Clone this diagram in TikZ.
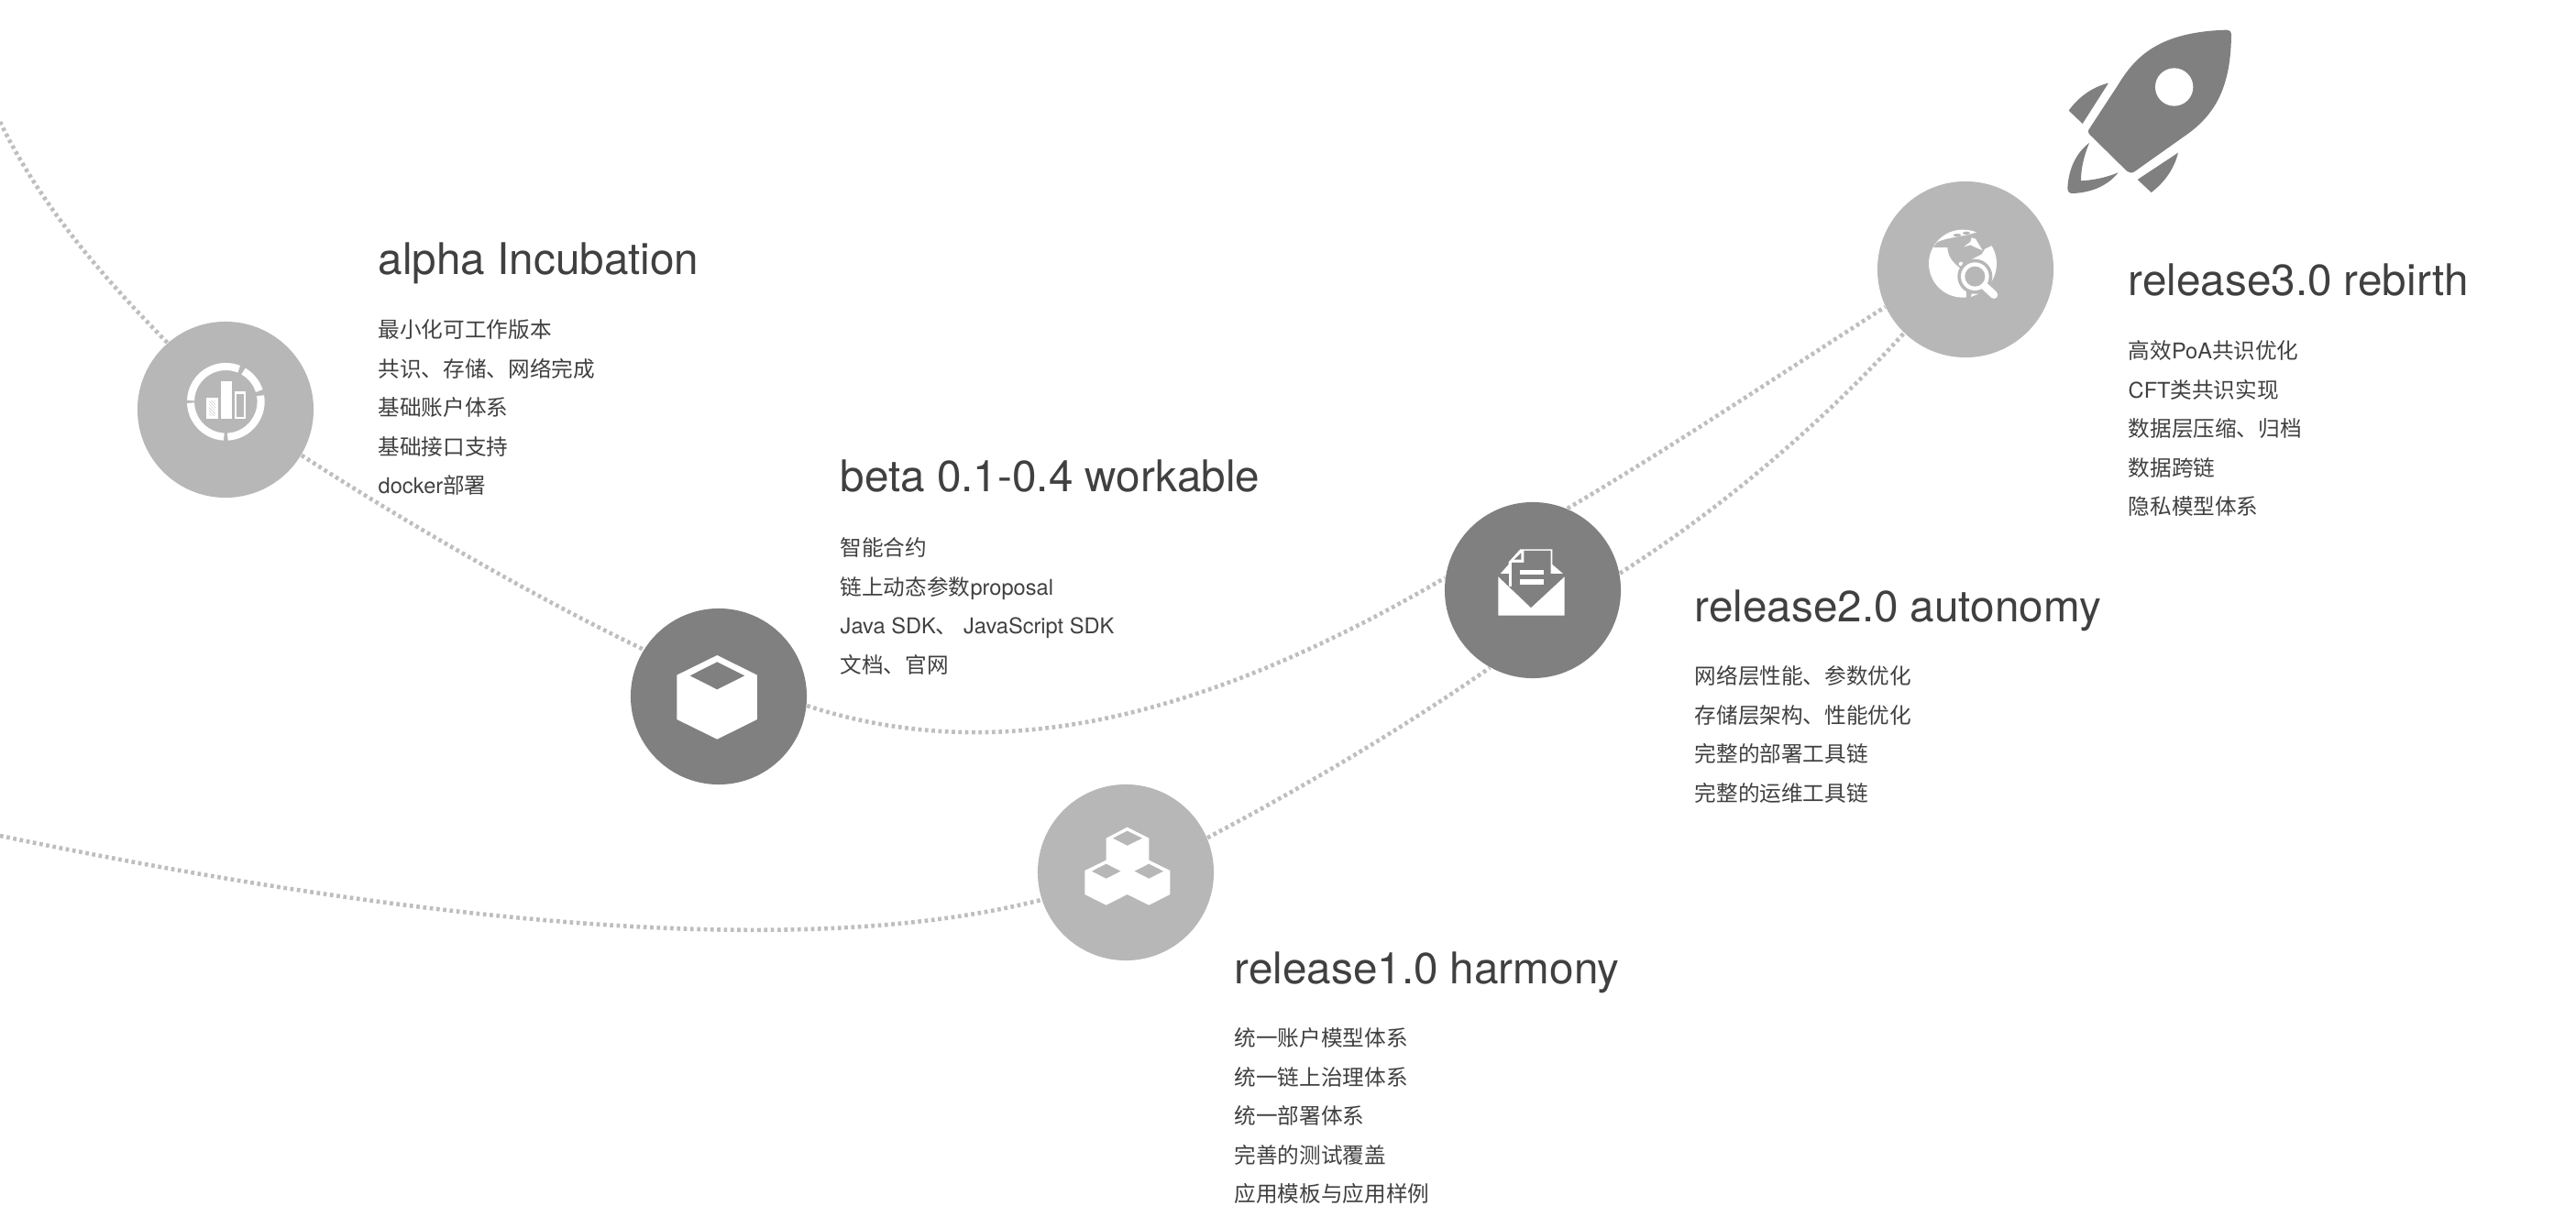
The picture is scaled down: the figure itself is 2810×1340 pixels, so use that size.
\documentclass[tikz,border=0pt]{standalone}
\usepackage{fontspec}
\setmainfont{TeX Gyre Heros}
\newfontfamily\cjk{Noto Sans CJK SC}
\newcommand{\zh}[1]{{\cjk #1}}
\usetikzlibrary{positioning}
\definecolor{discLight}{HTML}{B7B7B7}
\definecolor{discDark}{HTML}{808080}
\definecolor{trailGray}{HTML}{BEBEBE}
\definecolor{inkGray}{HTML}{404040}
\begin{document}
\begin{tikzpicture}[x=0.01cm, y=-0.01cm,
    trail/.style={trailGray, line width=1.3pt, dash pattern=on 1.05pt off 1.03pt},
    disc/.style={circle, minimum size=1.92cm, inner sep=0pt},
    lightdisc/.style={disc, fill=discLight},
    darkdisc/.style={disc, fill=discDark},
    titletext/.style={anchor=base west, inner sep=0pt, text=inkGray, text depth=3pt, font=\fontsize{13.55}{16}\selectfont},
    bodytext/.style={inner sep=0pt, align=left, text=inkGray, font=\fontsize{6.72}{12.12}\selectfont}]
  \useasboundingbox (0,0) rectangle (2810,1340);

  % Stations
  \node[lightdisc] (alphaDisc)    at (246,447)  {};
  \node[darkdisc]  (betaDisc)     at (784,760)  {};
  \node[lightdisc] (harmonyDisc)  at (1228,952) {};
  \node[darkdisc]  (autonomyDisc) at (1672,644) {};
  \node[lightdisc] (rebirthDisc)  at (2144,294) {};
  \coordinate (upperStart) at (0,133);
  \coordinate (lowerStart) at (0,912);

  % Upper road
  \draw[trail] (upperStart) .. controls (45,225) and (110,300) .. (alphaDisc.131);
  \draw[trail] (alphaDisc.-31) .. controls (450,575) and (590,655) .. (betaDisc.148);
  \draw[trail] (betaDisc.-6) .. controls (1080,835) and (1300,792) .. (autonomyDisc.172);
  \draw[trail] (autonomyDisc.67.5) .. controls (1820,490) and (1940,410) .. (rebirthDisc.205);

  % Lower road
  \draw[trail] (lowerStart) .. controls (400,995) and (850,1055) .. (harmonyDisc.198);
  \draw[trail] (harmonyDisc.23.5) .. controls (1420,860) and (1530,795) .. (autonomyDisc.241);
  \draw[trail] (autonomyDisc.11) .. controls (1870,560) and (1980,470) .. (rebirthDisc.226);

  % Rocket
  \begin{scope}[shift={(2150,0)}, scale=0.3333]
    \fill[discDark] (385,425) -- (480,280) .. controls (540,180) and (620,105) .. (835,98)
      .. controls (848,98) and (852,105) .. (852,115)
      .. controls (850,270) and (810,370) .. (700,445) -- (535,562)
      .. controls (525,568) and (518,566) .. (510,560) -- (388,440)
      .. controls (383,435) and (383,430) .. (385,425) -- cycle;
    \fill[white] (665,285) circle (62);
    \fill[discDark] (450,272) .. controls (395,285) and (350,320) .. (320,362) -- (365,405) -- cycle;
    \fill[discDark] (678,500) .. controls (665,555) and (630,600) .. (590,630) -- (545,588) -- cycle;
    \fill[discDark] (387,468) .. controls (345,500) and (320,550) .. (316,615)
      .. controls (316,628) and (322,634) .. (335,633)
      .. controls (400,630) and (450,605) .. (482,565)
      .. controls (440,582) and (400,590) .. (360,592)
      .. controls (360,550) and (370,510) .. (387,468) -- cycle;
  \end{scope}

  % Icon: ring with bars
  \begin{scope}[shift={(130,330)}, scale=0.3333]
    \foreach \a/\b in {-178/-68, -60/-18, -10/87, 93/178}
      \draw[white, line width=2.3pt] (349,325) ++(\a:115) arc[start angle=\a, end angle=\b, radius=115];
    \fill[white] (285,312) rectangle (323,380);
    \fill[white] (332,258) rectangle (369,380);
    \fill[white] (378,292) rectangle (415,380);
    \fill[discLight] (385,299) rectangle (408,374);
    \fill[discLight] (293,320) rectangle (316,373);
    \begin{scope}
      \clip (293,320) rectangle (316,373);
      \foreach \s in {280,290,...,380}
        \draw[white, line width=0.5pt] (285,\s) -- (325,\s+40);
    \end{scope}
  \end{scope}

  % Icon: cube
  \begin{scope}[shift={(670,650)}, scale=0.3333]
    \fill[white] (337,195) -- (468,260) -- (468,405) -- (337,470) -- (205,405) -- (205,260) -- cycle;
    \fill[discDark] (337,217) -- (427,262) -- (337,307) -- (248,262) -- cycle;
  \end{scope}

  % Icon: three cubes
  \begin{scope}[shift={(1110,840)}, scale=0.3333]
    \fill[white] (359,188) -- (430,224) -- (430,296) -- (499,330) -- (499,408) -- (430,443)
      -- (359,408) -- (290,443) -- (220,408) -- (220,330) -- (290,296) -- (290,224) -- cycle;
    \fill[discLight] (359,200) -- (408,224) -- (359,248) -- (312,224) -- cycle;
    \fill[discLight] (290,308) -- (337,332) -- (290,356) -- (243,332) -- cycle;
    \fill[discLight] (430,308) -- (477,332) -- (430,356) -- (383,332) -- cycle;
  \end{scope}

  % Icon: envelope
  \begin{scope}[shift={(1625,590)}, scale=0.3333]
    \fill[white] (100,28) -- (205,28) -- (205,78) -- (240,108) -- (35,108) -- (62,78) -- (62,70) -- cycle;
    \fill[white] (62,108) rectangle (72,150);
    \fill[discDark] (112,33) -- (200,33) -- (200,150) -- (135,220) -- (72,150) -- (72,72) -- (112,72) -- cycle;
    \fill[discDark] (80,62) -- (103,40) -- (103,62) -- cycle;
    \fill[white] (100,95) rectangle (178,112);
    \fill[white] (100,125) rectangle (178,143);
    \fill[white] (28,118) -- (135,220) -- (245,118) -- (245,245) -- (28,245) -- cycle;
  \end{scope}

  % Icon: globe with lens
  \begin{scope}[shift={(2030,190)}, scale=0.3333]
    \fill[white] (333,293) circle (111);
    \fill[discLight] (236,240) -- (283,240) .. controls (285,265) and (295,285) .. (325,308)
      -- (350,285) -- (395,262) -- (405,245) -- (432,232) -- (460,180) -- (378,180) -- (378,190)
      .. controls (340,195) and (290,200) .. (250,222) -- cycle;
    \fill[white] (250,222) .. controls (280,190) and (340,175) .. (378,190)
      .. controls (340,205) and (290,205) .. (250,222) -- cycle;
    \fill[discLight] (315,200) ellipse (13 and 5);
    \fill[discLight] (345,193) ellipse (12 and 5);
    \fill[white] (337,238) -- (358,222) -- (362,208) -- (375,212) -- (398,250) -- (375,240) -- (358,232) -- cycle;
    \fill[white] (327,294) circle (7);
    \fill[discLight] (373,335) circle (57);
    \fill[white] (373,335) circle (46);
    \fill[discLight] (373,335) circle (33);
    \fill[discLight] (345,385) -- (405,385) -- (405,410) -- (345,410) -- cycle;
    \fill[white] (360,402) -- (385,392) -- (362,392) -- cycle;
    \draw[white, line width=2.4pt, line cap=round] (405,367) -- (435,395);
  \end{scope}

  % Titles
  \node[titletext] (alphaTitle)    at (412,300)  {alpha Incubation};
  \node[titletext] (betaTitle)     at (916,537)  {beta 0.1-0.4 workable};
  \node[titletext] (harmonyTitle)  at (1346,1073) {release1.0 harmony};
  \node[titletext] (autonomyTitle) at (1848,678) {release2.0 autonomy};
  \node[titletext] (rebirthTitle)  at (2321,323) {release3.0 rebirth};

  % Lists
  \node[bodytext, below=10.4pt of alphaTitle.south west, anchor=north west] (alphaList)
    {\zh{最小化可工作版本}\\ \zh{共识、存储、网络完成}\\ \zh{基础账户体系}\\ \zh{基础接口支持}\\ docker\zh{部署}};
  \node[bodytext, below=10.7pt of betaTitle.south west, anchor=north west] (betaList)
    {\zh{智能合约}\\ \zh{链上动态参数}proposal\\ Java SDK\zh{、} JavaScript SDK\\ \zh{文档、官网}};
  \node[bodytext, below=10.4pt of harmonyTitle.south west, anchor=north west] (harmonyList)
    {\zh{统一账户模型体系}\\ \zh{统一链上治理体系}\\ \zh{统一部署体系}\\ \zh{完善的测试覆盖}\\ \zh{应用模板与应用样例}};
  \node[bodytext, below=10.4pt of autonomyTitle.south west, anchor=north west] (autonomyList)
    {\zh{网络层性能、参数优化}\\ \zh{存储层架构、性能优化}\\ \zh{完整的部署工具链}\\ \zh{完整的运维工具链}};
  \node[bodytext, below=10.4pt of rebirthTitle.south west, anchor=north west] (rebirthList)
    {\zh{高效}PoA\zh{共识优化}\\ CFT\zh{类共识实现}\\ \zh{数据层压缩、归档}\\ \zh{数据跨链}\\ \zh{隐私模型体系}};
\end{tikzpicture}
\end{document}
